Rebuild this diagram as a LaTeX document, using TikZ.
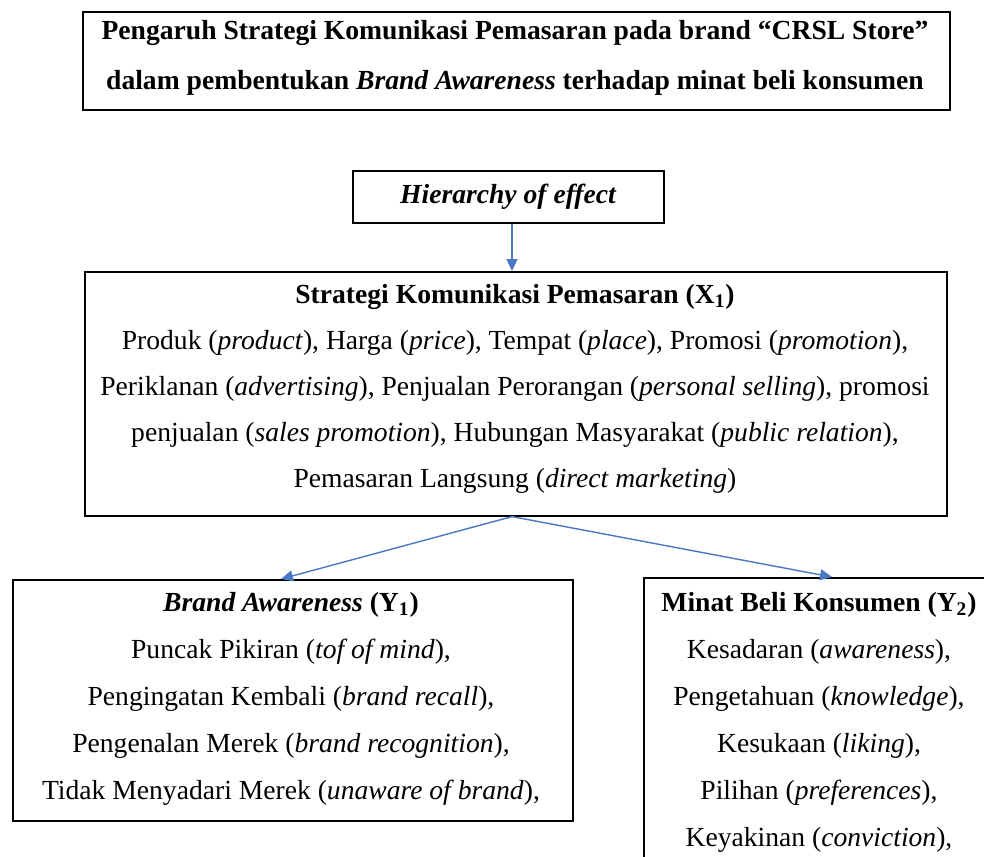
\documentclass[tikz,border=0pt]{standalone}
\usepackage{fontspec}
\setmainfont{Liberation Serif}
\usetikzlibrary{arrows.meta}
\definecolor{arrblue}{HTML}{4A78C4}
\begin{document}
\begin{tikzpicture}[x=0.5pt,y=-0.5pt,
  box/.style={draw=black,line width=0.8pt,inner sep=0pt,anchor=north west},
  txt/.style={align=center,inner sep=0pt,font=\fontsize{13.8pt}{23.5pt}\selectfont},
  arr/.style={draw=arrblue,line width=0.7pt,-{Triangle[length=6pt,width=5.5pt]}}]
\clip (0,0) rectangle (984,856);
\fill[white] (0,0) rectangle (984,856);
% boxes
\node[box,minimum width=433.5pt,minimum height=49pt] (titlebox) at (82,11) {};
\node[box,minimum width=155.5pt,minimum height=26pt] (hier) at (352,170) {};
\node[box,minimum width=431pt,minimum height=122pt] (strat) at (84,271) {};
\node[box,minimum width=280pt,minimum height=120.5pt] (brand) at (12,579) {};
\node[box,minimum width=200pt,minimum height=160pt] (minat) at (643,577) {};
% texts
\node[txt,font=\fontsize{13.8pt}{25pt}\selectfont\bfseries] (titletxt) at (515,58)
  {Pengaruh Strategi Komunikasi Pemasaran pada brand “CRSL Store”\\
   dalam pembentukan \textit{Brand Awareness} terhadap minat beli konsumen};
\node[txt,anchor=base,font=\fontsize{13.8pt}{23pt}\selectfont\bfseries\itshape] (hiertxt) at (508,203) {Hierarchy of effect};
\node[txt,font=\fontsize{13.8pt}{23pt}\selectfont] (strattxt) at (515,389)
  {\textbf{Strategi Komunikasi Pemasaran (X\textsubscript{1})}\\
   Produk (\textit{product}), Harga (\textit{price}), Tempat (\textit{place}), Promosi (\textit{promotion}),\\
   Periklanan (\textit{advertising}), Penjualan Perorangan (\textit{personal selling}), promosi\\
   penjualan (\textit{sales promotion}), Hubungan Masyarakat (\textit{public relation}),\\
   Pemasaran Langsung (\textit{direct marketing})};
\node[txt] (brandtxt) at (291,699)
  {\textbf{\textit{Brand Awareness} (Y\textsubscript{1})}\\
   Puncak Pikiran (\textit{tof of mind}),\\
   Pengingatan Kembali (\textit{brand recall}),\\
   Pengenalan Merek (\textit{brand recognition}),\\
   Tidak Menyadari Merek (\textit{unaware of brand}),};
\node[txt] (minattxt) at (819,722)
  {\textbf{Minat Beli Konsumen (Y\textsubscript{2})}\\
   Kesadaran (\textit{awareness}),\\
   Pengetahuan (\textit{knowledge}),\\
   Kesukaan (\textit{liking}),\\
   Pilihan (\textit{preferences}),\\
   Keyakinan (\textit{conviction}),};
% connectors
\draw[arr] (512,0 |- hier.south) -- (512,0 |- strat.north);
\draw[arr] (512,0 |- strat.south) -- (281,0 |- brand.north);
\draw[arr] (512,0 |- strat.south) -- (832,0 |- minat.north);
\end{tikzpicture}
\end{document}
